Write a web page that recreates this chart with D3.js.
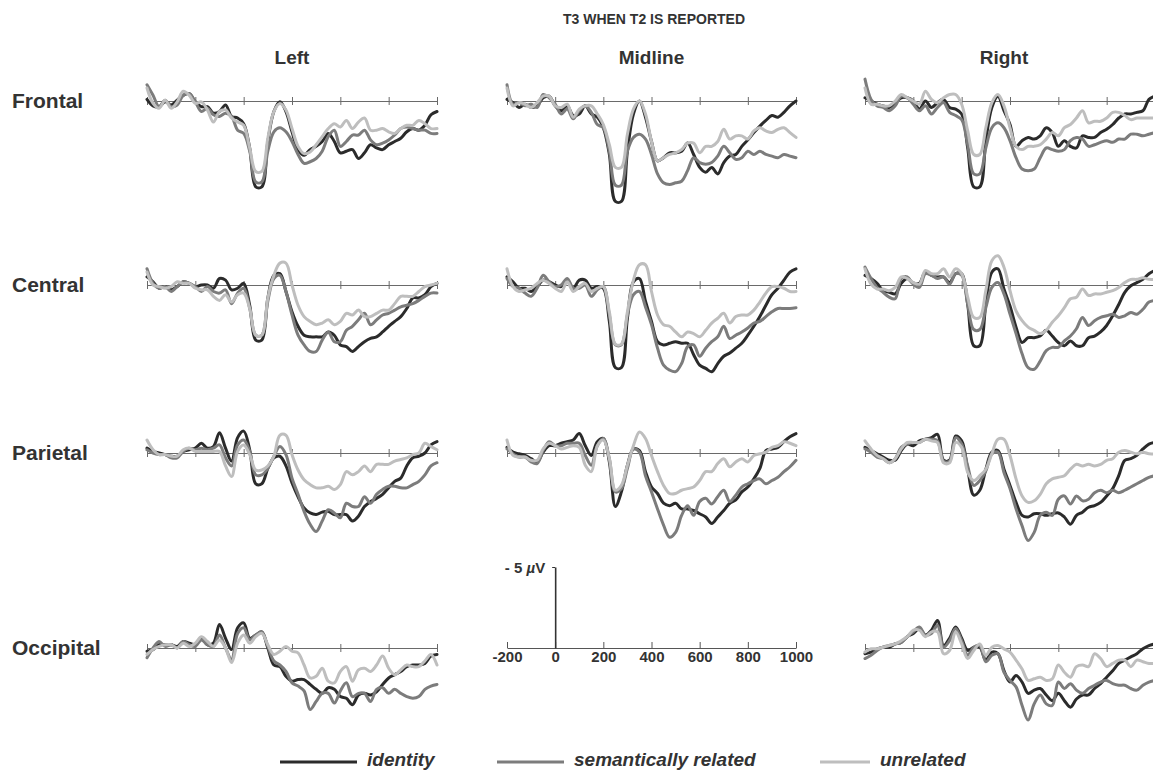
<!DOCTYPE html>
<html>
<head>
<meta charset="utf-8">
<title>T3 when T2 is reported</title>
<script src="https://cdn.jsdelivr.net/npm/d3@7"></script>
<style>
  html, body { margin: 0; padding: 0; background: #fff; }
  svg { display: block; font-family: "Liberation Sans", Arial, sans-serif; }
</style>
</head>
<body>
<div id="chart"></div>
<script>
// sampling grid of the waveforms (ms)
const times = d3.range(-200, 1001, 25);

const columns = ['Left', 'Midline', 'Right'];
const rows = ['Frontal', 'Central', 'Parietal', 'Occipital'];
const conditions = ['identity', 'semantically related', 'unrelated'];
const tickValues = [-200, 0, 200, 400, 600, 800, 1000];

// amplitudes in µV (negative up), one value per entry of times
const frontalLeftIdentity = [-0.1,0.3,0.35,0.05,0.25,-0.05,-0.35,-0.45,0.05,0.35,0.35,0.75,0.65,0.25,0.95,1.05,1.4,2.9,5.3,5.3,2.5,0.65,0.05,0.65,1.9,3.0,3.35,3.0,2.8,2.5,2.0,2.5,3.2,3.1,3.0,3.55,3.2,2.7,2.9,3.0,2.7,2.5,2.3,1.9,1.7,1.8,1.5,0.85,0.65];
const frontalLeftSemantic = [-1.0,-0.35,0.35,-0.05,0.35,0.25,-0.35,-0.45,0.05,0.65,0.45,0.85,0.95,0.75,0.95,1.8,2.0,3.1,5.0,5.0,3.1,1.9,1.65,1.9,2.5,3.3,3.85,3.75,3.55,3.1,2.2,1.8,2.8,2.5,2.1,2.1,1.8,2.4,2.7,2.6,2.4,2.1,1.7,1.6,1.7,1.8,1.8,2.0,2.0];
const frontalLeftUnrelated = [-0.8,0.15,0.45,-0.05,0.45,0.05,-0.6,-0.35,0.15,0.05,0.55,1.3,0.65,0.55,1.05,1.3,1.5,2.9,4.35,4.35,2.3,0.65,0.15,0.55,1.7,2.8,3.25,3.15,2.7,2.2,1.7,1.4,1.6,1.2,1.7,1.3,1.05,1.8,1.8,1.7,1.9,2.0,1.7,1.5,1.5,1.2,1.4,1.7,1.7];

const frontalMidIdentity = [-0.1,0.1,0.4,0.2,0.4,0.3,-0.2,-0.3,0.3,0.6,0.3,0.9,0.8,0.3,0.8,1.0,1.65,3.3,6.2,6.2,3.1,0.8,0.0,1.0,2.5,3.7,3.5,3.2,3.2,3.1,2.6,3.3,4.1,4.4,4.1,4.5,3.8,3.4,3.3,2.8,2.4,1.95,1.55,1.2,0.9,1.0,0.7,0.3,0.0];
const frontalMidSemantic = [-1.0,0.2,0.1,0.3,0.2,0.4,-0.4,-0.2,0.2,0.8,0.5,1.1,0.6,0.3,0.7,1.45,1.65,3.1,5.2,5.2,3.1,2.25,2.05,2.35,3.3,4.5,5.05,5.15,5.05,4.95,4.3,3.5,3.8,3.9,3.8,3.4,2.8,3.2,3.6,3.5,3.1,3.3,3.1,3.3,3.4,3.5,3.3,3.4,3.5];
const frontalMidUnrelated = [-0.8,0.3,0.1,0.2,0.4,0.1,-0.3,-0.3,0.3,0.4,0.2,1.0,0.5,0.3,0.3,0.8,1.45,2.7,4.1,4.1,2.05,0.5,0.0,0.8,2.5,3.7,3.5,3.3,3.2,3.0,2.6,2.6,3.2,2.8,2.8,2.5,1.75,2.35,2.15,2.15,2.35,1.85,1.65,1.85,1.95,1.75,1.65,1.95,2.25];

const frontalRightIdentity = [-0.2,0.0,0.2,0.3,0.4,0.1,-0.2,-0.2,0.0,0.5,0.0,0.4,0.1,-0.1,0.4,0.5,0.8,2.9,5.3,5.3,2.45,0.4,-0.3,0.6,1.45,2.8,2.45,2.25,2.35,2.15,1.65,1.95,2.8,2.45,2.8,2.9,2.15,2.25,2.25,1.95,1.75,1.45,1.05,0.8,0.8,0.7,0.6,-0.1,-0.3];
const frontalRightSemantic = [-1.35,-0.1,0.3,0.4,0.6,0.3,-0.3,-0.2,0.2,0.6,0.3,0.8,0.4,0.1,0.7,0.9,1.15,2.7,4.5,4.5,2.9,1.65,1.35,1.65,2.45,3.5,4.2,4.3,4.2,3.5,2.9,3.0,3.1,3.0,2.45,2.25,2.35,2.8,2.7,2.55,2.45,2.55,2.35,2.35,2.05,2.05,2.15,2.05,1.95];
const frontalRightUnrelated = [-0.8,0.2,0.2,0.3,0.3,0.0,-0.4,-0.2,0.0,0.2,-0.6,-0.1,0.1,-0.2,-0.4,-0.4,0.2,1.85,3.3,3.3,1.65,0.1,-0.4,0.3,1.65,2.8,3.0,2.8,2.8,2.7,2.35,1.95,2.15,1.65,1.45,1.05,0.6,1.35,1.25,1.25,1.05,0.7,0.7,0.9,1.15,1.05,1.05,1.05,1.05];

const centralLeftIdentity = [-0.5,-0.2,0.2,0.1,0.3,0.1,-0.2,-0.1,0.1,0.0,0.0,0.2,-0.4,-0.3,0.3,0.2,-0.1,1.25,3.4,3.4,0.8,-0.6,-0.7,0.4,1.65,2.55,3.1,3.2,3.2,3.2,2.9,3.1,3.7,3.8,4.1,3.8,3.5,3.3,3.2,2.9,2.55,2.25,1.95,1.45,0.8,0.8,0.6,0.1,-0.1];
const centralLeftSemantic = [-1.0,-0.1,0.2,0.1,0.4,0.1,-0.2,-0.1,0.1,0.4,0.1,0.4,0.5,0.3,1.15,0.5,0.2,1.45,3.1,3.1,1.0,-0.4,-0.6,0.4,1.85,3.1,3.7,4.1,4.1,3.4,2.9,3.5,3.5,2.8,2.55,2.15,1.75,2.45,2.15,1.85,1.75,1.55,1.35,1.25,1.15,0.95,0.7,0.5,0.5];
const centralLeftUnrelated = [-0.8,0.0,0.1,0.2,0.1,-0.2,-0.1,-0.1,0.2,0.3,0.3,0.7,0.95,0.6,1.05,0.6,0.5,1.45,3.1,3.1,0.8,-0.6,-1.35,-1.35,0.0,1.25,1.95,2.25,2.45,2.35,2.15,2.45,2.25,1.75,1.85,1.55,1.95,1.95,1.75,1.55,1.55,1.15,0.7,0.7,0.7,0.4,0.1,0.0,-0.1];

const centralMidIdentity = [-0.5,-0.2,0.2,0.2,0.4,0.1,-0.3,-0.2,0.0,0.1,-0.3,0.2,-0.3,-0.3,0.2,0.1,0.2,2.25,5.1,5.1,2.05,-0.2,-0.4,1.0,2.25,3.5,3.7,3.6,3.5,3.6,3.6,4.3,4.95,5.15,5.35,4.85,4.4,4.2,3.9,3.6,3.1,2.55,1.95,1.25,0.6,0.2,-0.3,-0.8,-1.0];
const centralMidSemantic = [-0.4,0.1,0.2,0.5,0.7,0.2,-0.6,-0.2,0.1,0.0,-0.4,0.2,0.2,0.0,0.7,0.3,0.1,1.85,3.7,3.7,1.85,0.6,0.4,1.35,2.45,3.9,4.95,5.25,5.35,4.85,3.8,3.7,4.4,3.9,3.5,3.2,2.55,3.3,3.1,2.9,2.65,2.35,2.25,1.95,1.65,1.45,1.45,1.45,1.4];
const centralMidUnrelated = [-1.0,0.1,0.4,0.3,0.2,-0.1,-0.3,-0.1,0.2,0.4,-0.2,0.4,0.1,-0.1,0.4,0.2,0.1,1.65,3.65,3.65,1.65,-0.3,-1.25,-1.25,0.4,1.85,2.45,2.55,2.9,3.2,2.9,3.0,3.2,2.8,2.35,2.05,1.75,2.35,1.95,1.85,1.85,1.55,1.05,0.5,0.1,0.1,0.2,0.4,0.4];

const centralRightIdentity = [-0.6,-0.4,-0.1,0.35,0.45,0.55,-0.1,-0.4,-0.1,-0.1,-0.8,-0.6,-0.5,-0.5,-0.15,-0.7,-0.7,1.2,3.75,3.75,1.2,-0.8,-1.0,0.25,1.3,2.6,3.55,3.25,3.25,3.15,2.8,3.15,3.55,3.75,3.45,3.75,3.75,3.25,3.15,2.9,2.5,1.9,1.2,0.45,0.05,-0.15,-0.35,-0.7,-0.9];
const centralRightSemantic = [-1.1,-0.4,0.15,0.45,0.75,0.85,-0.4,-0.5,-0.05,0.15,-0.7,-0.6,-0.4,-0.5,-0.05,-0.7,-0.6,1.2,2.75,2.75,1.4,0.15,-0.15,0.55,1.8,3.0,4.25,5.1,5.2,4.7,4.05,3.85,3.85,3.45,3.15,2.7,2.0,2.5,2.2,2.0,1.9,1.8,2.0,1.9,1.7,1.8,1.5,1.05,0.95];
const centralRightUnrelated = [-1.0,-0.05,0.25,0.25,0.35,0.15,-0.5,-0.4,-0.15,-0.05,-0.9,-0.7,-0.7,-1.0,-0.5,-1.0,-0.7,0.75,2.0,2.0,0.35,-1.5,-1.8,-1.1,0.35,1.6,2.2,2.6,2.8,3.0,2.8,2.3,1.9,1.4,0.85,0.75,0.25,0.65,0.55,0.55,0.45,0.35,0.15,-0.15,-0.35,-0.35,-0.45,-0.35,-0.35];

const parietalLeftIdentity = [-0.3,-0.1,0.0,0.1,0.2,0.2,-0.1,-0.2,-0.3,-0.6,-0.3,-0.4,-1.25,-0.3,0.5,-0.95,-1.35,-0.2,1.9,1.9,0.95,0.3,0.2,0.8,1.85,2.7,3.4,3.7,3.8,3.65,3.6,3.8,3.8,3.8,4.2,3.9,3.3,3.0,2.8,2.55,2.15,1.75,1.55,0.8,0.3,0.2,0.0,-0.5,-0.7];
const parietalLeftSemantic = [-0.2,0.0,0.1,0.1,0.3,0.3,-0.1,-0.3,-0.2,-0.3,-0.2,-0.3,-0.5,0.3,0.8,-0.5,-0.8,-0.1,1.35,1.35,0.95,0.2,-0.4,0.1,1.55,2.55,3.6,4.4,4.85,4.2,3.5,3.7,4.0,3.1,3.3,3.3,2.7,3.1,2.55,2.25,2.05,2.05,2.15,2.15,1.95,1.75,1.35,0.8,0.6];
const parietalLeftUnrelated = [-0.8,-0.2,0.1,0.1,0.2,0.2,-0.2,-0.3,-0.1,-0.1,-0.1,-0.1,-0.1,0.8,1.45,-0.1,-0.5,0.1,1.05,1.05,0.8,0.2,-1.1,-1.1,0.1,1.05,1.65,1.95,2.15,2.15,2.05,2.25,1.95,1.15,1.35,1.15,0.8,1.15,0.7,0.7,0.7,0.5,0.4,0.3,0.1,0.0,-0.6,-0.4,-0.2];

const parietalMidIdentity = [-0.35,-0.05,0.05,0.15,0.35,0.55,-0.05,-0.45,-0.45,-0.6,-0.7,-0.8,-1.2,-0.45,0.15,-0.7,-0.9,0.55,3.3,2.4,0.75,-0.25,-0.15,1.15,2.1,2.5,3.1,3.25,3.1,3.45,3.45,3.55,3.75,3.95,4.35,3.95,3.55,3.1,2.9,2.4,2.1,1.6,0.95,-0.15,-0.25,-0.35,-0.7,-1.0,-1.2];
const parietalMidSemantic = [-0.25,0.05,0.25,0.25,0.55,0.65,-0.15,-0.7,-0.45,-0.45,-0.6,-0.6,-0.6,0.15,0.75,-0.45,-0.9,0.35,2.4,2.2,0.95,-0.25,-0.05,1.4,2.4,3.45,4.45,5.2,4.9,3.85,3.25,3.85,3.0,2.8,3.15,2.7,2.3,3.0,2.6,2.1,1.9,1.7,1.6,1.9,1.7,1.5,1.15,0.85,0.45];
const parietalMidUnrelated = [-0.8,0.15,0.25,0.25,0.45,0.45,-0.25,-0.6,-0.45,-0.25,-0.35,-0.45,-0.35,0.75,1.15,-0.45,-0.8,0.35,2.3,2.0,0.75,-0.45,-1.3,-0.9,0.15,1.15,2.0,2.5,2.5,2.3,2.2,2.1,1.7,1.15,1.15,0.65,0.35,0.85,0.55,0.35,0.55,0.15,0.05,-0.05,-0.35,-0.45,-0.7,-0.6,-0.45];

const parietalRightIdentity = [-0.35,-0.15,0.05,0.25,0.45,0.45,-0.15,-0.55,-0.45,-0.75,-0.85,-0.95,-1.15,0.45,0.45,-1.05,-0.75,1.0,2.6,2.3,1.0,-0.05,-0.15,1.0,2.0,3.05,3.85,3.95,3.75,3.75,3.85,3.75,3.7,3.95,4.4,3.85,3.65,3.35,3.25,3.05,2.65,2.2,1.4,0.45,0.35,0.15,-0.25,-0.55,-0.65];
const parietalRightSemantic = [-0.25,-0.05,0.25,0.35,0.6,0.35,-0.35,-0.55,-0.65,-0.65,-0.85,-0.85,-0.75,0.5,0.5,-0.95,-0.55,0.8,2.0,1.7,1.1,0.05,-0.05,1.2,2.2,3.45,4.5,5.4,4.9,3.85,3.65,3.85,2.85,2.65,3.15,2.65,2.95,2.85,2.45,2.3,2.45,2.3,2.45,2.3,2.1,1.9,1.7,1.5,1.4];
const parietalRightUnrelated = [-0.75,-0.25,0.15,0.35,0.6,0.35,-0.25,-0.65,-0.65,-0.65,-0.85,-0.75,-0.65,0.6,0.6,-0.65,-0.35,1.2,1.7,1.4,1.0,0.05,-0.85,-0.85,0.15,1.6,2.65,3.05,2.95,2.55,1.9,1.6,1.5,1.4,1.0,0.7,0.8,0.7,0.8,0.7,0.45,0.35,-0.05,-0.15,-0.05,0.05,-0.05,0.05,0.05];

const occipitalLeftIdentity = [0.2,0.1,-0.2,-0.2,-0.2,-0.1,-0.4,-0.3,-0.2,-0.6,-0.2,-0.3,-1.45,-0.6,0.1,-1.25,-1.55,-0.6,-0.8,-1.0,0.0,1.05,1.15,1.75,2.05,1.95,1.95,2.25,2.55,2.8,2.45,2.55,3.0,3.1,3.5,2.9,2.8,2.9,2.7,2.25,1.85,1.65,1.45,1.15,1.05,1.05,0.95,0.5,0.4];
const occipitalLeftSemantic = [0.6,0.0,-0.4,-0.1,-0.2,0.0,-0.4,-0.2,-0.1,-0.5,-0.2,-0.1,-0.8,0.0,0.7,-0.9,-1.25,-0.5,-0.8,-1.0,-0.1,0.8,1.05,1.45,2.15,2.35,2.65,3.8,3.3,2.8,2.8,3.4,2.65,2.15,3.0,2.8,2.8,3.3,2.55,2.45,2.8,2.55,2.8,3.0,3.1,3.0,2.55,2.35,2.25];
const occipitalLeftUnrelated = [0.4,0.1,-0.1,-0.2,-0.2,0.0,-0.3,-0.1,-0.3,-0.7,-0.4,-0.1,-0.5,0.0,0.9,-0.3,-0.8,-0.3,-0.7,-0.9,-0.2,0.4,0.2,-0.1,0.2,0.3,1.05,1.85,1.75,1.25,2.05,2.15,1.45,1.15,2.05,1.35,1.25,1.45,1.05,0.5,1.25,1.65,1.35,1.05,1.15,1.15,0.8,0.4,1.05];

const occipitalRightIdentity = [0.35,0.25,0.05,-0.05,-0.05,-0.25,-0.35,-0.7,-0.9,-1.2,-0.8,-1.1,-1.7,-0.15,-0.6,-1.3,-0.6,0.15,-0.05,-0.05,0.75,0.25,0.35,1.4,2.1,1.7,2.1,2.8,2.6,2.5,2.9,3.25,2.8,3.25,3.65,3.15,2.9,2.9,2.5,2.2,1.8,1.4,0.95,0.75,0.55,0.35,0.05,-0.15,-0.25];
const occipitalRightSemantic = [0.65,0.45,0.15,-0.05,-0.15,-0.25,-0.35,-0.7,-1.0,-1.3,-0.8,-0.9,-1.4,-0.05,-0.45,-1.2,-0.45,0.45,-0.05,-0.15,0.85,0.45,0.35,1.5,2.0,2.4,3.55,4.45,3.45,2.9,3.45,3.55,2.1,2.5,2.2,2.6,2.8,2.5,2.3,2.1,2.0,2.2,2.3,2.3,2.5,2.6,2.3,2.1,2.0];
const occipitalRightUnrelated = [0.25,0.05,0.05,-0.05,-0.15,-0.25,-0.45,-0.7,-1.1,-1.1,-0.7,-1.0,-1.0,0.35,0.15,-1.0,-0.25,0.65,0.15,-0.25,0.45,-0.05,-0.15,0.05,0.25,0.75,1.3,2.0,1.9,1.8,2.0,1.9,1.05,1.5,1.8,1.15,1.05,1.15,0.35,0.65,1.15,0.95,0.75,0.75,1.15,0.75,0.85,0.95,0.95];

// panel table built from the arrays above (occipital midline holds the scale)
const panels = [
  { row: 'Frontal', col: 'Left', series: [frontalLeftIdentity, frontalLeftSemantic, frontalLeftUnrelated] },
  { row: 'Frontal', col: 'Midline', series: [frontalMidIdentity, frontalMidSemantic, frontalMidUnrelated] },
  { row: 'Frontal', col: 'Right', series: [frontalRightIdentity, frontalRightSemantic, frontalRightUnrelated] },
  { row: 'Central', col: 'Left', series: [centralLeftIdentity, centralLeftSemantic, centralLeftUnrelated] },
  { row: 'Central', col: 'Midline', series: [centralMidIdentity, centralMidSemantic, centralMidUnrelated] },
  { row: 'Central', col: 'Right', series: [centralRightIdentity, centralRightSemantic, centralRightUnrelated] },
  { row: 'Parietal', col: 'Left', series: [parietalLeftIdentity, parietalLeftSemantic, parietalLeftUnrelated] },
  { row: 'Parietal', col: 'Midline', series: [parietalMidIdentity, parietalMidSemantic, parietalMidUnrelated] },
  { row: 'Parietal', col: 'Right', series: [parietalRightIdentity, parietalRightSemantic, parietalRightUnrelated] },
  { row: 'Occipital', col: 'Left', series: [occipitalLeftIdentity, occipitalLeftSemantic, occipitalLeftUnrelated] },
  { row: 'Occipital', col: 'Right', series: [occipitalRightIdentity, occipitalRightSemantic, occipitalRightUnrelated] }
];

const width = 1153;
const height = 772;
const colors = ['#2b2b2b', '#7c7c7c', '#bebebe'];
const textColor = '#333';

// layout
const colRange = { Left: [147, 437], Midline: [507, 796], Right: [865, 1155] };
const rowBase = { Frontal: 101, Central: 285, Parietal: 453, Occipital: 648 };
const pxPerMicroVolt = 16.2;

const svg = d3.select('#chart')
  .append('svg')
  .attr('width', width)
  .attr('height', height)
  .attr('viewBox', `0 0 ${width} ${height}`);

// title + headers
svg.append('text')
  .attr('x', 654).attr('y', 24)
  .attr('text-anchor', 'middle')
  .attr('font-size', 14).attr('font-weight', 'bold')
  .attr('fill', textColor)
  .text('T3 WHEN T2 IS REPORTED');

svg.selectAll('text.col-head')
  .data(columns)
  .join('text')
  .attr('class', 'col-head')
  .attr('x', d => (colRange[d][0] + colRange[d][1]) / 2 + (d === 'Right' ? -6 : 0))
  .attr('y', 64)
  .attr('text-anchor', 'middle')
  .attr('font-size', 19).attr('font-weight', 'bold')
  .attr('fill', textColor)
  .text(d => d);

svg.selectAll('text.row-head')
  .data(rows)
  .join('text')
  .attr('class', 'row-head')
  .attr('x', 12)
  .attr('y', d => rowBase[d])
  .attr('dy', '0.35em')
  .attr('font-size', 21).attr('font-weight', 'bold')
  .attr('fill', textColor)
  .text(d => d);

const line = d3.line().curve(d3.curveCatmullRom.alpha(0.5));

panels.forEach(p => {
  const x = d3.scaleLinear().domain([-200, 1000]).range(colRange[p.col]);
  const base = rowBase[p.row];
  const y = d3.scaleLinear().domain([0, 1]).range([base, base + pxPerMicroVolt]);

  const g = svg.append('g').attr('class', 'panel');

  // zero line with ticks crossing it
  g.append('g')
    .attr('transform', `translate(0,${base})`)
    .call(d3.axisBottom(x).tickValues(tickValues).tickSize(4).tickSizeOuter(0).tickFormat(''))
    .call(a => a.select('.domain').attr('stroke', '#6a6a6a'))
    .call(a => a.selectAll('.tick line').attr('y1', -4).attr('y2', 4).attr('stroke', '#6a6a6a'));

  line.x((d, i) => x(times[i])).y(d => y(d));

  g.selectAll('path.wave')
    .data(p.series)
    .join('path')
    .attr('class', 'wave')
    .attr('d', d => line(d))
    .attr('fill', 'none')
    .attr('stroke', (d, i) => colors[i])
    .attr('stroke-width', 3)
    .attr('stroke-linejoin', 'round')
    .attr('stroke-linecap', 'round');
});

// calibration axes in the occipital midline slot
const xs = d3.scaleLinear().domain([-200, 1000]).range(colRange.Midline);
const baseS = rowBase.Occipital;
const ys = d3.scaleLinear().domain([-5, 0]).range([baseS - 5 * pxPerMicroVolt, baseS]);

const scaleG = svg.append('g').attr('class', 'scale');

scaleG.append('g')
  .attr('transform', `translate(0,${baseS})`)
  .call(d3.axisBottom(xs).tickValues(tickValues).tickSize(-6).tickSizeOuter(0).tickPadding(3).tickFormat(d => String(d)))
  .call(a => a.select('.domain').attr('stroke', '#555'))
  .call(a => a.selectAll('.tick line').attr('stroke', '#555'))
  .call(a => a.selectAll('.tick text')
    .attr('font-family', '"Liberation Sans", Arial, sans-serif')
    .attr('font-size', 15).attr('font-weight', 'bold').attr('fill', textColor));

scaleG.append('g')
  .attr('transform', `translate(${xs(0)},0)`)
  .call(d3.axisLeft(ys).tickValues([-5]).tickSize(3).tickSizeOuter(0).tickFormat(''))
  .call(a => a.select('.domain').attr('stroke', '#333').attr('stroke-width', 1.6))
  .call(a => a.selectAll('.tick line').attr('stroke', '#333'));

const uv = scaleG.append('text')
  .attr('x', xs(0) - 10)
  .attr('y', ys(-5))
  .attr('dy', '0.4em')
  .attr('text-anchor', 'end')
  .attr('font-size', 15).attr('font-weight', 'bold')
  .attr('fill', textColor);
uv.append('tspan').text('- 5 ');
uv.append('tspan').attr('font-style', 'italic').text('µ');
uv.append('tspan').text('V');

// legend
const legendX = [280, 497, 820];
const legendLen = [77, 67, 50];
const legend = svg.append('g').attr('class', 'legend');
const items = legend.selectAll('g')
  .data(conditions)
  .join('g')
  .attr('transform', (d, i) => `translate(${legendX[i]},762)`);
items.append('line')
  .attr('x1', 0).attr('x2', (d, i) => legendLen[i])
  .attr('stroke', (d, i) => colors[i])
  .attr('stroke-width', 3);
items.append('text')
  .attr('x', (d, i) => legendLen[i] + 10)
  .attr('dy', '0.2em')
  .attr('font-size', 19).attr('font-weight', 'bold').attr('font-style', 'italic')
  .attr('fill', textColor)
  .text(d => d);
</script>
</body>
</html>
